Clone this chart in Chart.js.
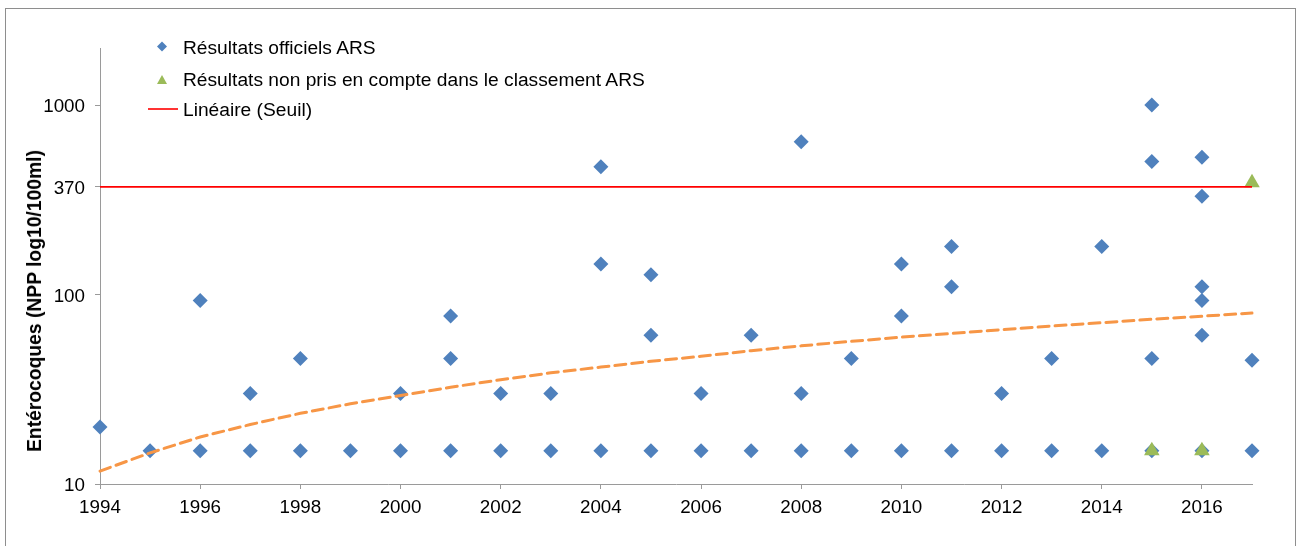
<!DOCTYPE html>
<html><head><meta charset="utf-8">
<script src="https://cdn.jsdelivr.net/npm/chart.js@4.4.1/dist/chart.umd.min.js"></script>
<style>
html,body{margin:0;padding:0;background:#fff;overflow:hidden;}
#wrap{position:relative;width:1297px;height:546px;overflow:hidden;font-family:"Liberation Sans",Arial,sans-serif;color:#000;}
#frame{position:absolute;left:5px;top:8px;width:1291px;height:600px;border:1.5px solid #8e8e8e;box-sizing:border-box;}
#c{position:absolute;left:0;top:0;}
#ytitle{position:absolute;left:35px;top:301px;transform:translate(-50%,-50%) rotate(-90deg);font-weight:bold;font-size:19.3px;white-space:nowrap;}
.lt{position:absolute;left:183px;font-size:19.2px;line-height:26px;height:26px;white-space:nowrap;}
#lsvg{position:absolute;left:0;top:0;}
</style>
</head><body>
<div id="wrap">
<div id="frame"></div>
<canvas id="c" width="1297" height="546"></canvas>
<div id="ytitle">Entérocoques (NPP log10/100ml)</div>
<svg id="lsvg" width="700" height="130">
  <polygon points="162,41.5 167,46.5 162,51.5 157,46.5" fill="#4F81BD"/>
  <polygon points="162,75 167,84 157,84" fill="#9BBB59"/>
  <line x1="148" y1="109" x2="178" y2="109" stroke="#FF0000" stroke-width="1.6"/>
</svg>
<div class="lt" style="top:35px">Résultats officiels ARS</div>
<div class="lt" style="top:67px">Résultats non pris en compte dans le classement ARS</div>
<div class="lt" style="top:97px">Linéaire (Seuil)</div>
</div>
<script>
// Official ARS results (year, value)
const officialYears = [1994,1995,1996,1996,1997,1997,1998,1998,1999,2000,2000,2001,2001,2001,2002,2002,2003,2003,
  2004,2004,2004,2005,2005,2005,2006,2006,2007,2007,2008,2008,2008,2009,2009,2010,2010,2010,2011,2011,2011,
  2012,2012,2013,2013,2014,2014,2015,2015,2015,2015,2016,2016,2016,2016,2016,2016,2017,2017];
const officialValues = [20,15,15,93,15,30,15,46,15,15,30,15,46,77,15,30,15,30,
  15,145,472,15,61,127,15,30,15,61,15,30,640,15,46,15,77,145,15,110,179,
  15,30,15,46,15,179,15,46,503,1000,15,61,93,110,330,530,15,45];
// Results not counted in ARS classification
const excludedYears = [2015,2016,2017];
const excludedValues = [15,15,389];
// Threshold (Seuil)
const thresholdYears = [1994,2017];
const thresholdValues = [370,370];
// Trend line values
const trendYears = [1994,1995,1996,1997,1998,1999,2000,2001,2002,2003,2004,2005,2006,2007,2008,2009,2010,2011,2012,2013,2014,2015,2016,2017];
const trendValues = [11.7,14.6,17.7,20.6,23.6,26.5,29.3,32.4,35.5,38.6,41.4,44.4,47.2,50.5,53.6,56.6,59.6,62.3,65.2,68.2,71.0,74.0,76.8,79.9];
// Tick labels
const xTickLabels = [1994,1996,1998,2000,2002,2004,2006,2008,2010,2012,2014,2016];
const yTickLabels = [10,100,370,1000];

const pts = (xs, ys) => xs.map((x, i) => ({x: x, y: ys[i]}));
const FONT = {family: '"Liberation Sans", Arial, sans-serif', size: 18.8};
const AXIS = '#9a9a9a';

new Chart(document.getElementById('c'), {
  type: 'scatter',
  data: {
    datasets: [
      {label: 'Tendance', data: pts(trendYears, trendValues), showLine: true, borderColor: '#F79646',
       borderWidth: 3, borderDash: [11, 6], borderCapStyle: 'round', pointRadius: 0, order: 0, clip: false},
      {label: 'Linéaire (Seuil)', data: pts(thresholdYears, thresholdValues), showLine: true, borderColor: '#FF0000',
       borderWidth: 1.8, pointRadius: 0, order: 1, clip: false},
      {label: 'Résultats non pris en compte dans le classement ARS', data: pts(excludedYears, excludedValues),
       pointStyle: 'triangle', pointRadius: 9, backgroundColor: '#9BBB59', borderColor: '#9BBB59', borderWidth: 0, order: 2, clip: false},
      {label: 'Résultats officiels ARS', data: pts(officialYears, officialValues),
       pointStyle: 'rectRot', pointRadius: 7.5, backgroundColor: '#4F81BD', borderColor: '#4F81BD', borderWidth: 0, order: 3, clip: false}
    ]
  },
  options: {
    responsive: false, animation: false,
    layout: {padding: {left: 0, top: 48, right: 45, bottom: 0}},
    plugins: {legend: {display: false}, tooltip: {enabled: false}},
    scales: {
      x: {
        type: 'linear', min: 1994, max: 2017,
        afterBuildTicks: s => { s.ticks = xTickLabels.map(v => ({value: v})); },
        afterFit: s => { s.height = 62; },
        ticks: {callback: v => String(v), color: '#000', font: FONT, padding: 8, maxRotation: 0, autoSkip: false},
        grid: {drawOnChartArea: false, tickLength: 5, color: AXIS},
        border: {color: AXIS, width: 1}
      },
      y: {
        type: 'logarithmic', min: 10, max: 2000,
        afterBuildTicks: s => { s.ticks = yTickLabels.map(v => ({value: v})); },
        afterFit: s => { s.width = 100; },
        ticks: {callback: v => String(v), color: '#000', font: FONT, padding: 10, labelOffset: 2, autoSkip: false},
        grid: {drawOnChartArea: false, tickLength: 5, color: AXIS},
        border: {color: AXIS, width: 1}
      }
    }
  }
});
</script>
</body></html>
